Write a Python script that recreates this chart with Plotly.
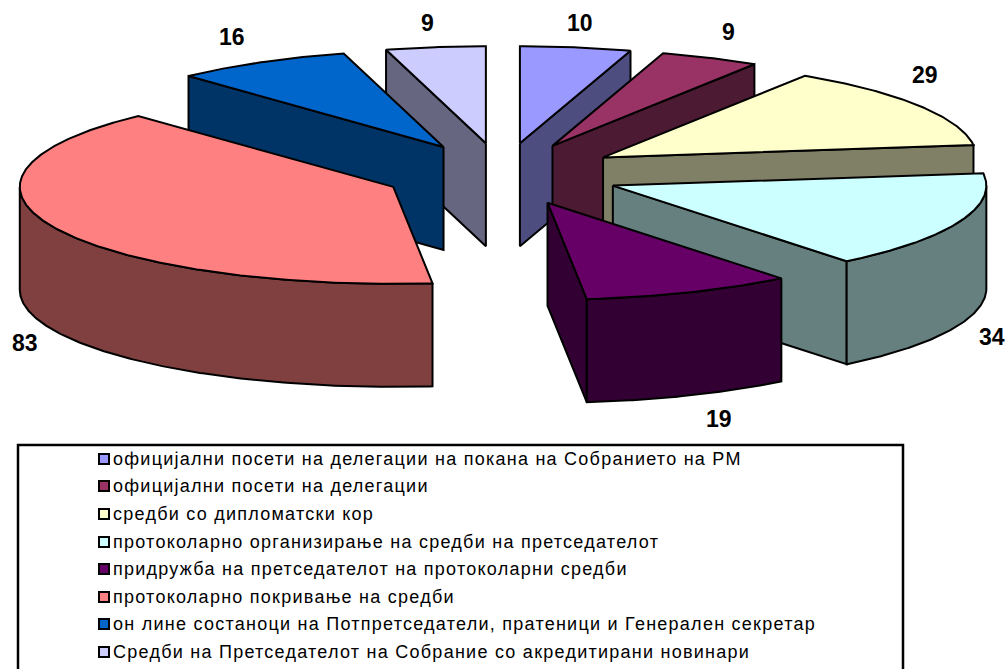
import numpy as np
import plotly.graph_objects as go

categories = [
    "официјални посети на делегации на покана на Собранието на РМ",
    "официјални посети на делегации",
    "средби со дипломатски кор",
    "протоколарно организирање на средби на претседателот",
    "придружба на претседателот на протоколарни средби",
    "протоколарно покривање на средби",
    "он лине состаноци на Потпретседатели, пратеници и Генерален секретар",
    "Средби на Претседателот на Собрание со акредитирани новинари",
]
values = [10, 9, 29, 34, 19, 83, 16, 9]

top_colors = ["#9999FF", "#993366", "#FFFFCC", "#CCFFFF", "#660066", "#FF8080", "#0066CC", "#CCCCFF"]
side_colors = ["#4D4D80", "#4D1A33", "#808066", "#668080", "#330033", "#804040", "#003366", "#666680"]

# Pie projection
CX, CY = 502.0, 174.0
RX, RY = 373.5, 97.0
DEPTH = 103.0
EXPLODE = 0.32
draw_order = [7, 0, 1, 6, 2, 5, 3, 4]
label_pos = [(580, 23), (728, 32), (925, 75), (992, 337), (719, 419), (25, 343), (232, 37), (427, 23)]

LEGEND_BOX = (18, 445, 903, 690)
legend_marker_x = 104
legend_text_x = 113
legend_y = [459, 486, 514, 542, 569, 597, 624, 652]
legend_text_y = [460, 487, 515, 543, 570, 598, 625, 653]
LEGEND_FONT = 18
LEGEND_SPACING = "1.25px"

total = sum(values)
bounds = np.cumsum([0] + values) / total * 360.0


def point(c, a):
    r = np.radians(a)
    return c[0] + RX * np.sin(r), c[1] - RY * np.cos(r)


def arc(c, a0, a1):
    n = max(int(abs(a1 - a0) * 2), 2)
    aa = np.linspace(a0, a1, n)
    r = np.radians(aa)
    return c[0] + RX * np.sin(r), c[1] - RY * np.cos(r)


fig = go.Figure()


def poly(xs, ys, color):
    fig.add_trace(go.Scatter(
        x=list(xs) + [xs[0]], y=list(ys) + [ys[0]], mode="lines", fill="toself",
        fillcolor=color, line=dict(color="black", width=2), hoverinfo="skip", showlegend=False,
    ))


for i in draw_order:
    a0, a1 = bounds[i], bounds[i + 1]
    mid = np.radians((a0 + a1) / 2)
    c = (CX + EXPLODE * RX * np.sin(mid), CY - EXPLODE * RY * np.cos(mid))
    side = side_colors[i]
    # visible cut faces
    for a, visible in ((a0, np.sin(np.radians(a0)) < -1e-9), (a1, np.sin(np.radians(a1)) > 1e-9)):
        if visible:
            px, py = point(c, a)
            poly([c[0], px, px, c[0]], [c[1], py, py + DEPTH, c[1] + DEPTH], side)
    # outer wall, front half only
    w0, w1 = max(a0, 90), min(a1, 270)
    if w1 > w0:
        ax, ay = arc(c, w0, w1)
        poly(list(ax) + list(ax[::-1]), list(ay) + list((ay + DEPTH)[::-1]), side)
    # top
    ax, ay = arc(c, a0, a1)
    poly([c[0]] + list(ax), [c[1]] + list(ay), top_colors[i])

annotations = [
    dict(x=p[0], y=p[1], text=str(v), showarrow=False, xref="x", yref="y", xanchor="center", yanchor="middle",
         font=dict(family="Liberation Sans", size=23, color="black", weight="bold"))
    for v, p in zip(values, label_pos)
]

# Legend
fig.add_trace(go.Scatter(
    x=[legend_marker_x] * len(categories), y=legend_y, mode="markers",
    marker=dict(symbol="square", size=10, color=top_colors, line=dict(color="black", width=2)),
    hoverinfo="skip", showlegend=False,
))
fig.add_trace(go.Scatter(
    x=[legend_text_x] * len(categories), y=legend_text_y, mode="text", text=categories,
    textposition="middle right",
    textfont=dict(family="Liberation Sans", size=LEGEND_FONT, color="black"),
    hoverinfo="skip", showlegend=False,
))

fig.update_layout(
    width=1006, height=669, margin=dict(l=0, r=0, t=0, b=0),
    paper_bgcolor="white", plot_bgcolor="white", showlegend=False,
    xaxis=dict(range=[0, 1006], visible=False, fixedrange=True),
    yaxis=dict(range=[669, 0], visible=False, fixedrange=True),
    annotations=annotations,
    shapes=[dict(type="rect", xref="x", yref="y", x0=LEGEND_BOX[0], y0=LEGEND_BOX[1], x1=LEGEND_BOX[2], y1=LEGEND_BOX[3],
                 line=dict(color="black", width=2.5), fillcolor="rgba(0,0,0,0)", layer="below")],
)

fig.write_html(
    "out.html",
    config={"displayModeBar": False},
    post_script=(
        "document.body.style.margin='0';"
        "document.querySelectorAll('.textpoint text').forEach(function(t){t.style.letterSpacing='%s';});" % LEGEND_SPACING
    ),
)
